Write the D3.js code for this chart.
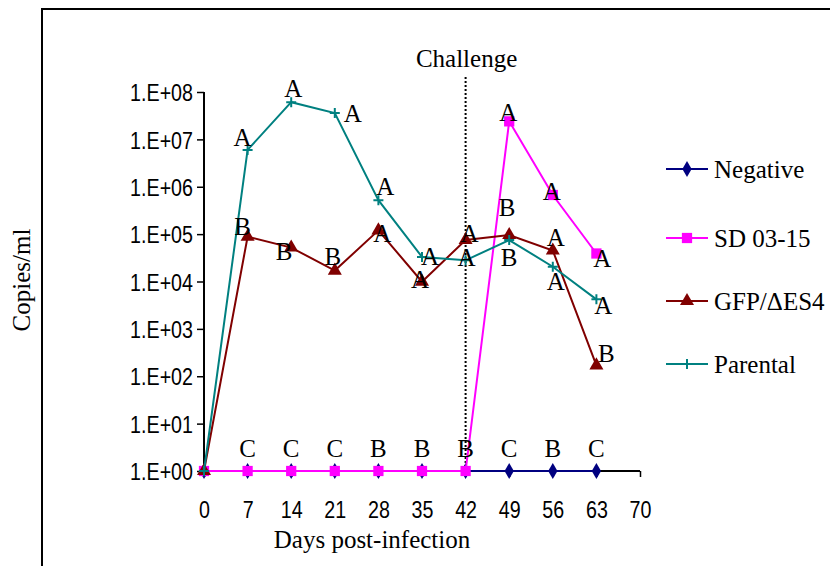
<!DOCTYPE html>
<html><head><meta charset="utf-8">
<script src="https://cdn.jsdelivr.net/npm/d3@7"></script>
<style>
body{margin:0;background:#fff;}
svg{display:block;}
.serif{font-family:"Liberation Serif","Times New Roman",serif;}
.sans{font-family:"Liberation Sans",Arial,sans-serif;}
</style></head>
<body>
<svg id="chart" width="830" height="566"></svg>
<script>
// ---- data ----
const days = [0, 7, 14, 21, 28, 35, 42, 49, 56, 63];
const xTicks = [0, 7, 14, 21, 28, 35, 42, 49, 56, 63, 70];
const yTickExps = [0, 1, 2, 3, 4, 5, 6, 7, 8];
const seriesNames = ["Negative", "SD 03-15", "GFP/\u0394ES4", "Parental"];
const negative = [1, 1, 1, 1, 1, 1, 1, 1, 1, 1];
const sd0315 = [1, 1, 1, 1, 1, 1, 1, 2.4e7, 6.7e5, 3.9e4];
const gfp = [1, 8.8e4, 5.2e4, 1.7e4, 1.2e5, 9.9e3, 7.5e4, 9.6e4, 4.5e4, 1.7e2];
const parental = [1, 6e6, 6.1e7, 3.6e7, 5.2e5, 3.3e4, 2.8e4, 7.5e4, 2.05e4, 4.2e3];
const challengeDay = 42;
// significance letters (null = none)
const parentalLetters = [null, "A", "A", "A", "A", "A", "A", "B", "A", "A"];
const gfpLetters = [null, "B", "B", "B", "A", "A", "A", "B", "A", "B"];
const sdLetters = [null, null, null, null, null, null, null, "A", "A", "A"];
const negLetters = [null, "C", "C", "C", "B", "B", "B", "C", "B", "C"];

// ---- layout (positions / styles) ----
const parentalOff = [null, [-5,-12], [2,-14], [18,0], [7,-14], [8,0], [1,-3], [0,17], [3,15], [7,6]];
const gfpOff = [null, [-5,-10], [-7,4], [-2,-14], [4,3], [-2,-2], [4,-7], [-2,-27], [3,-13], [10,-12]];
const sdOff = [null, null, null, null, null, null, null, [-1,-9], [-1,-3], [6,5]];
const negOff = [null, [0,-23], [0,-23], [0,-23], [0,-23], [0,-23], [0,-23], [0,-23], [0,-23], [0,-23]];
const colors = ["#000080", "#ff00ff", "#800000", "#008080"];
const symbols = [d3.symbolDiamond, d3.symbolSquare, d3.symbolTriangle, "plus"];

const svg = d3.select("#chart");
const x = d3.scaleLinear().domain([0, 70]).range([204, 640]);
const y = d3.scaleLog().domain([1, 1e8]).range([471, 92]);

// frame
svg.append("rect").attr("x", 42).attr("y", 9).attr("width", 900).attr("height", 700)
  .attr("fill", "none").attr("stroke", "#000").attr("stroke-width", 2);

// axes
const yAxis = d3.axisLeft(y).tickValues(yTickExps.map(e => Math.pow(10, e)))
  .tickSize(7).tickPadding(4)
  .tickFormat(d => "1.E+" + String(Math.round(Math.log10(d))).padStart(2, "0"));
const gy = svg.append("g").attr("transform", "translate(204,0)").call(yAxis);
const xAxis = d3.axisBottom(x).tickValues(xTicks).tickSize(6).tickPadding(24).tickFormat(d3.format("d"));
const gx = svg.append("g").attr("transform", "translate(0,471)").call(xAxis);
[gx, gy].forEach(g => {
  g.select(".domain").attr("stroke", "#000").attr("stroke-width", 2);
  g.selectAll(".tick line").attr("stroke", "#000").attr("stroke-width", 1.5);
  g.selectAll(".tick text").attr("class", "sans").attr("font-size", 24).attr("fill", "#000");
});
gy.select(".domain").attr("d", "M0,92V471");
gx.select(".domain").attr("d", "M204,0H640");
gy.selectAll(".tick text").attr("dy", "0.36em")
  .each(function(){ const t = d3.select(this); const xx = +t.attr("x");
    t.attr("x", null).attr("transform", `translate(${xx},0) scale(0.82,1)`); });
gx.selectAll(".tick text").attr("dy", "0.71em")
  .each(function(){ const t = d3.select(this); const yy = +t.attr("y");
    t.attr("y", null).attr("transform", `translate(0,${yy}) scale(0.82,1)`); });

// challenge line
svg.append("line").attr("x1", x(challengeDay)).attr("x2", x(challengeDay))
  .attr("y1", 77).attr("y2", 471).attr("stroke", "#000").attr("stroke-width", 2)
  .attr("stroke-dasharray", "2,2");
svg.append("text").attr("class", "serif").attr("x", x(challengeDay) + 1).attr("y", 67)
  .attr("text-anchor", "middle").attr("font-size", 25).text("Challenge");

// series
const allSeries = [negative, sd0315, gfp, parental];
const line = d3.line().x((d, i) => x(days[i])).y(d => y(d));
function drawMarker(g, i, cx, cy) {
  if (symbols[i] === "plus") {
    g.append("path").attr("d", `M${cx-5},${cy}H${cx+5}M${cx},${cy-5}V${cy+5}`)
      .attr("stroke", colors[i]).attr("stroke-width", 2).attr("fill", "none");
  } else {
    const size = i === 0 ? 75 : (i === 1 ? 105 : 85);
    g.append("path").attr("d", d3.symbol().type(symbols[i]).size(size)())
      .attr("transform", `translate(${cx},${cy})`).attr("fill", colors[i]);
  }
}
allSeries.forEach((vals, i) => {
  const g = svg.append("g");
  g.append("path").datum(vals).attr("d", line).attr("fill", "none")
    .attr("stroke", colors[i]).attr("stroke-width", 2);
  vals.forEach((v, j) => drawMarker(g, i, x(days[j]), y(v)));
});

// letters
const letterSets = [[negLetters, negOff, negative], [sdLetters, sdOff, sd0315], [gfpLetters, gfpOff, gfp], [parentalLetters, parentalOff, parental]];
letterSets.forEach(([letters, offs, vals]) => {
  letters.forEach((L, j) => {
    if (!L) return;
    svg.append("text").attr("class", "serif").attr("font-size", 25)
      .attr("text-anchor", "middle")
      .attr("x", x(days[j]) + offs[j][0])
      .attr("y", y(vals[j]) + offs[j][1] + 8.5)
      .text(L);
  });
});

// legend
const legendY = [169, 238, 301, 364];
seriesNames.forEach((name, i) => {
  const g = svg.append("g");
  g.append("line").attr("x1", 666).attr("x2", 708).attr("y1", legendY[i]).attr("y2", legendY[i])
    .attr("stroke", colors[i]).attr("stroke-width", 2);
  drawMarker(g, i, 687, legendY[i]);
  g.append("text").attr("class", "serif").attr("font-size", 25).attr("x", 714)
    .attr("y", legendY[i] + 8.5).text(name);
});

// axis titles
svg.append("text").attr("class", "serif").attr("font-size", 25).attr("text-anchor", "middle")
  .attr("transform", "translate(30,280) rotate(-90)").text("Copies/ml");
svg.append("text").attr("class", "serif").attr("font-size", 25).attr("text-anchor", "middle")
  .attr("x", 372).attr("y", 548).text("Days post-infection");
</script>
</body></html>
